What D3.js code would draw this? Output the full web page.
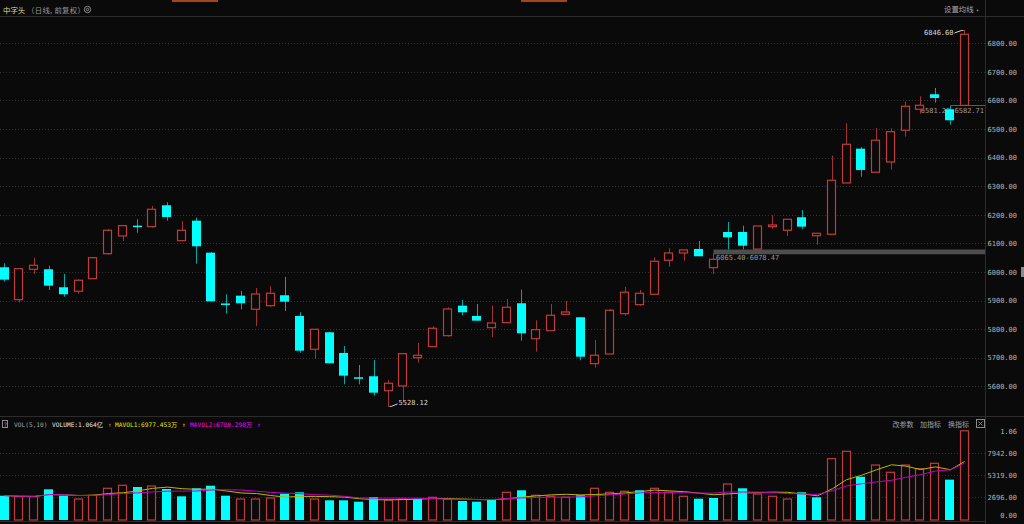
<!DOCTYPE html>
<html><head><meta charset="utf-8">
<script src="https://cdn.jsdelivr.net/npm/d3@7"></script>
<style>html,body{margin:0;padding:0;background:#0a0a0a;overflow:hidden}</style>
</head><body><svg id="c" width="1024" height="524"></svg>
<script>
// ---- data (price in points, volume in 万) ----
const opens  = [6016.4,5903.1,6009.4,6009.4,5946.5,5932.5,5976.6,6064.0,6125.9,6162.0,6158.5,6233.4,6109.5,6179.5,6067.5,5889.8,5917.1,5869.5,5882.1,5918.5,5846.1,5729.6,5789.0,5716.6,5631.6,5635.1,5584.7,5601.2,5700.2,5738.7,5777.1,5882.1,5846.1,5805.1,5822.6,5890.5,5766.6,5794.6,5852.0,5841.5,5679.2,5713.1,5854.1,5885.6,5922.0,6040.9,6066.5,6080.5,6015.0,6139.9,6139.9,6080.0,6158.5,6145.9,6191.4,6127.0,6131.9,6311.4,6431.4,6348.8,6384.8,6495.8,6569.2,6621.7,6569.2,6582.71];
const highs  = [6030.4,6013.0,6050.0,6022.0,5993.0,5974.5,6052.5,6150.4,6164.4,6184.4,6230.9,6243.9,6178.4,6190.0,6070.0,5922.0,5933.5,5944.0,5950.0,5982.5,5859.0,5800.6,5790.1,5741.1,5674.6,5692.1,5622.2,5715.0,5751.6,5810.0,5876.5,5902.0,5888.0,5882.1,5905.5,5938.1,5831.0,5888.0,5898.5,5841.5,5762.1,5870.6,5947.5,5937.0,6051.4,6082.9,6077.0,6108.5,6065.4,6174.9,6162.0,6160.9,6198.4,6184.4,6216.9,6135.4,6406.9,6520.2,6437.3,6503.8,6502.8,6595.8,6614.7,6643.7,6581.29,6846.6];
const lows   = [5966.1,5892.6,5993.0,5937.0,5913.6,5924.1,5976.6,6060.5,6108.5,6137.5,6155.0,6179.5,6109.5,6029.0,5896.1,5854.1,5869.5,5811.1,5878.6,5863.6,5717.7,5696.7,5679.9,5607.1,5607.1,5567.2,5528.12,5546.2,5682.7,5738.7,5773.6,5848.5,5829.6,5771.5,5822.6,5759.6,5721.2,5794.6,5852.0,5691.1,5665.2,5713.1,5847.1,5882.1,5922.0,6018.5,6039.5,6054.9,5993.0,6078.47,6079.0,6080.0,6151.5,6126.0,6150.4,6095.5,6131.9,6311.4,6333.4,6348.8,6357.9,6473.4,6553.8,6592.3,6515.4,6582.71];
const closes = [5973.1,6011.5,6023.4,5952.1,5922.0,5971.0,6050.0,6145.9,6162.0,6159.9,6219.4,6192.4,6145.9,6089.9,5897.5,5886.3,5890.5,5923.0,5925.5,5896.1,5724.7,5799.5,5680.6,5637.2,5629.1,5577.7,5610.6,5714.2,5708.6,5803.0,5870.6,5859.0,5829.6,5821.6,5876.5,5785.5,5798.1,5848.5,5860.1,5703.7,5708.6,5866.0,5929.0,5925.5,6037.4,6066.5,6077.0,6054.9,6044.4,6121.4,6092.0,6160.9,6164.4,6184.4,6158.5,6135.4,6320.8,6446.8,6356.9,6460.8,6490.9,6579.7,6583.2,6608.8,6530.7,6831.6];
const volumes= [2897,2778,2778,3660,2897,2504,2945,3780,4137,3935,4054,3696,2826,3780,4090,2897,2504,2504,2623,3136,3303,2504,2349,2349,2182,2742,2385,2504,2540,2706,2504,2265,2182,2385,3303,3541,2945,2826,2706,2945,3780,3303,3422,3541,3780,3303,2826,2540,2623,4292,3780,3100,2826,2504,3303,2706,7317,8191,5163,6558,5687,6558,6117,6760,4812,10640];
const prevClose = 6020.0;
const priceTicks = [5600,5700,5800,5900,6000,6100,6200,6300,6400,6500,6600,6700,6800];
const volTicks = [0,2696,5319,7942,10565];
const volTickLabels = ["0.00","2696.00","5319.00","7942.00","1.06"];
const maPeriods = [5,10];

const RED='#c23b3b', RED_W='#a53232', CYAN='#00ffff', CYAN_W='#00a8a8';
const MONO="'DejaVu Sans Mono', monospace";
const CJK="'Noto Sans CJK SC', sans-serif";

const svg=d3.select('#c');
const W=1024,H=524, axisX=985;
svg.append('rect').attr('width',W).attr('height',H).attr('fill','#0a0a0a');

const n=opens.length;
const x=d3.scaleBand().domain(d3.range(n)).range([-0.3,969.2]).paddingInner(0.36);
const bw=x.bandwidth();
const cx=i=>Math.round(x(i)+bw/2)+0.5;
const yP=d3.scaleLinear().domain([5600,6800]).range([386.3,43.3]);
const yV=d3.scaleLinear().domain([0,10565]).range([520,431.4]);

// frame lines
const frame=svg.append('g').attr('stroke','#2c2c2c').attr('stroke-width',1);
frame.append('line').attr('x1',0).attr('x2',W).attr('y1',16.5).attr('y2',16.5);
frame.append('line').attr('x1',axisX+0.5).attr('x2',axisX+0.5).attr('y1',0).attr('y2',H);
frame.append('line').attr('x1',0).attr('x2',W).attr('y1',416.5).attr('y2',416.5);
frame.append('line').attr('x1',0).attr('x2',axisX).attr('y1',521.5).attr('y2',521.5);

// top tab marks
svg.append('rect').attr('x',172).attr('y',0).attr('width',46).attr('height',2).attr('fill','#a4441c');
svg.append('rect').attr('x',521).attr('y',0).attr('width',46).attr('height',2).attr('fill','#a4441c');

// header
svg.append('text').attr('x',3).attr('y',12.5).attr('font-family',CJK).attr('font-size',7.4).attr('fill','#e6d690').text('中字头');
svg.append('text').attr('x',27).attr('y',12.5).attr('font-family',CJK).attr('font-size',7.4).attr('letter-spacing',0.3).attr('fill','#9a9a9a').text('（日线, 前复权）');
svg.append('circle').attr('cx',87.5).attr('cy',9.5).attr('r',3.2).attr('fill','none').attr('stroke','#8a8a8a');
svg.append('circle').attr('cx',87.5).attr('cy',9.5).attr('r',1.2).attr('fill','none').attr('stroke','#8a8a8a');
svg.append('text').attr('x',944).attr('y',12).attr('font-family',CJK).attr('font-size',7.4).attr('fill','#a8a8a8').text('设置均线');
svg.append('text').attr('x',976).attr('y',11.5).attr('font-family',MONO).attr('font-size',5).attr('fill','#a8a8a8').text('▾');

// price grid
svg.append('g').selectAll('line').data(priceTicks).join('line')
  .attr('x1',0).attr('x2',axisX).attr('y1',d=>Math.round(yP(d))+0.5).attr('y2',d=>Math.round(yP(d))+0.5)
  .attr('stroke','#303030').attr('stroke-dasharray','1,2');

// price axis
const pa=svg.append('g').attr('transform','translate(1017,0)')
  .call(d3.axisRight(yP).tickValues(priceTicks).tickSize(0).tickPadding(0).tickFormat(d=>d.toFixed(2)));
pa.select('.domain').remove();
pa.selectAll('text').attr('text-anchor','end').attr('x',0).attr('font-family',MONO).attr('font-size',7).attr('fill','#b4b4b4');

// scroll handle
svg.append('rect').attr('x',1021).attr('y',267).attr('width',3).attr('height',10).attr('fill','#8a8a8a');

// gap bands
svg.append('rect').attr('x',cx(48)).attr('width',axisX-cx(48)).attr('y',yP(6078.47)).attr('height',yP(6065.40)-yP(6078.47)+1).attr('fill','#4e4e4e');
svg.append('line').attr('x1',cx(64)).attr('x2',axisX).attr('y1',Math.round(yP(6582.71))+0.5).attr('y2',Math.round(yP(6582.71))+0.5).attr('stroke','#5a5a5a');
svg.append('text').attr('x',716).attr('y',260).attr('font-family',MONO).attr('font-size',7).attr('fill','#9a9a9a').text('6065.40-6078.47');
svg.append('text').attr('x',984).attr('y',112.5).attr('text-anchor','end').attr('font-family',MONO).attr('font-size',7).attr('fill','#9a9a9a').text('6581.29-6582.71');

// candles
const cg=svg.append('g');
d3.range(n).forEach(i=>{
  const o=opens[i],c=closes[i],h=highs[i],l=lows[i];
  const up=c>=o;
  const top=yP(Math.max(o,c)), bot=yP(Math.min(o,c));
  const xc=cx(i), xl=Math.round(x(i))+0.5;
  if(up){
    cg.append('line').attr('x1',xc).attr('x2',xc).attr('y1',yP(h)).attr('y2',top).attr('stroke',RED_W);
    cg.append('line').attr('x1',xc).attr('x2',xc).attr('y1',bot).attr('y2',yP(l)).attr('stroke',RED_W);
    cg.append('rect').attr('x',xl).attr('y',top).attr('width',Math.round(bw)-1).attr('height',Math.max(1,bot-top))
      .attr('fill','#0a0a0a').attr('stroke',RED).attr('stroke-width',1.2);
  } else {
    cg.append('line').attr('x1',xc).attr('x2',xc).attr('y1',yP(h)).attr('y2',yP(l)).attr('stroke',CYAN_W);
    cg.append('rect').attr('x',xl-0.5).attr('y',top).attr('width',Math.round(bw)).attr('height',Math.max(1.5,bot-top))
      .attr('fill',CYAN);
  }
});

// high / low annotations
const iMax=d3.maxIndex(highs), iMin=d3.minIndex(lows);
svg.append('polyline').attr('points',`${cx(iMax)-10},${yP(highs[iMax])+3} ${cx(iMax)-3},${yP(highs[iMax])+0.5} ${cx(iMax)-1},${yP(highs[iMax])+0.5}`)
  .attr('fill','none').attr('stroke','#d8d8d8');
svg.append('text').attr('x',cx(iMax)-11).attr('y',yP(highs[iMax])+5.5).attr('text-anchor','end').attr('font-family',MONO).attr('font-size',7).attr('fill','#d8d8d8').text(highs[iMax].toFixed(2));
svg.append('polyline').attr('points',`${cx(iMin)+1},${yP(lows[iMin])-0.5} ${cx(iMin)+3},${yP(lows[iMin])-0.5} ${cx(iMin)+9},${yP(lows[iMin])-3}`)
  .attr('fill','none').attr('stroke','#d8d8d8');
svg.append('text').attr('x',cx(iMin)+10).attr('y',yP(lows[iMin])-2).attr('font-family',MONO).attr('font-size',7).attr('fill','#d8d8d8').text(lows[iMin].toFixed(2));

// volume header
svg.append('rect').attr('x',2.5).attr('y',420.5).attr('width',5).attr('height',7).attr('fill','none').attr('stroke','#8a8a8a');
svg.append('text').attr('x',3.4).attr('y',426.5).attr('font-family',MONO).attr('font-size',6).attr('fill','#a0a0a0').text('?');
const ma = maPeriods.map(p=>volumes.map((v,i)=>d3.mean(volumes.slice(Math.max(0,i-p+1),i+1))));
const last=n-1;
const fmtW=v=>v.toFixed(3)+'万';
const hdr=[
  {x:14,t:`VOL(${maPeriods.join(',')})`,c:'#a0a0a0'},
  {x:52,t:`VOLUME:${(volumes[last]/10000).toFixed(3)}亿`,c:'#e4e4e4'},
  {x:108,t:'↑',c:'#a0a0a0'},
  {x:115,t:`MAVOL1:${fmtW(6977.453)}`,c:'#e6e600'},
  {x:182,t:'↑',c:'#e6e600'},
  {x:190,t:`MAVOL2:${fmtW(6780.298)}`,c:'#ff00ff'},
  {x:257,t:'↑',c:'#ff00ff'}
];
svg.append('g').selectAll('text').data(hdr).join('text')
  .attr('x',d=>d.x).attr('y',427).attr('font-family',MONO+", 'Noto Sans CJK SC'").attr('font-size',6.2).attr('fill',d=>d.c).text(d=>d.t);
[['改参数',892.5],['加指标',920],['换指标',948]].forEach(([t,xx])=>{
  svg.append('text').attr('x',xx).attr('y',426.5).attr('font-family',CJK).attr('font-size',7).attr('fill','#a0a0a0').text(t);
});
svg.append('rect').attr('x',976.5).attr('y',419.5).attr('width',8).attr('height',8).attr('fill','none').attr('stroke','#8a8a8a');
svg.append('path').attr('d','M978.5,421.5L982.5,425.5M982.5,421.5L978.5,425.5').attr('stroke','#8a8a8a');

// volume grid
svg.append('g').selectAll('line').data(volTicks.slice(1,4)).join('line')
  .attr('x1',0).attr('x2',axisX).attr('y1',d=>Math.round(yV(d))+0.5).attr('y2',d=>Math.round(yV(d))+0.5)
  .attr('stroke','#303030').attr('stroke-dasharray','1,2');
const va=svg.append('g').attr('transform','translate(1017,0)')
  .call(d3.axisRight(yV).tickValues(volTicks).tickSize(0).tickPadding(0).tickFormat((d,i)=>volTickLabels[i]));
va.select('.domain').remove();
va.selectAll('text').attr('text-anchor','end').attr('x',0).attr('font-family',MONO).attr('font-size',7).attr('fill','#b4b4b4')
  .attr('dy',(d,i)=>i===0?'-0.4em':'0.32em');

// volume bars
const vg=svg.append('g');
volumes.forEach((v,i)=>{
  const pc=i===0?prevClose:closes[i-1];
  const up=closes[i]>=pc;
  const xl=Math.round(x(i))+0.5;
  if(up){
    vg.append('rect').attr('x',xl).attr('y',yV(v)).attr('width',Math.round(bw)-1).attr('height',yV(0)-yV(v))
      .attr('fill','#0a0a0a').attr('stroke',RED).attr('stroke-width',1.2);
  } else {
    vg.append('rect').attr('x',xl-0.5).attr('y',yV(v)).attr('width',Math.round(bw)).attr('height',yV(0)-yV(v)).attr('fill',CYAN);
  }
});
// MA lines
const lineGen=d3.line().x((d,i)=>cx(i)).y(d=>yV(d));
svg.append('path').attr('d',lineGen(ma[0])).attr('fill','none').attr('stroke','#b8b800').attr('stroke-width',1);
svg.append('path').attr('d',lineGen(ma[1])).attr('fill','none').attr('stroke','#c000c0').attr('stroke-width',1);
</script></body></html>
